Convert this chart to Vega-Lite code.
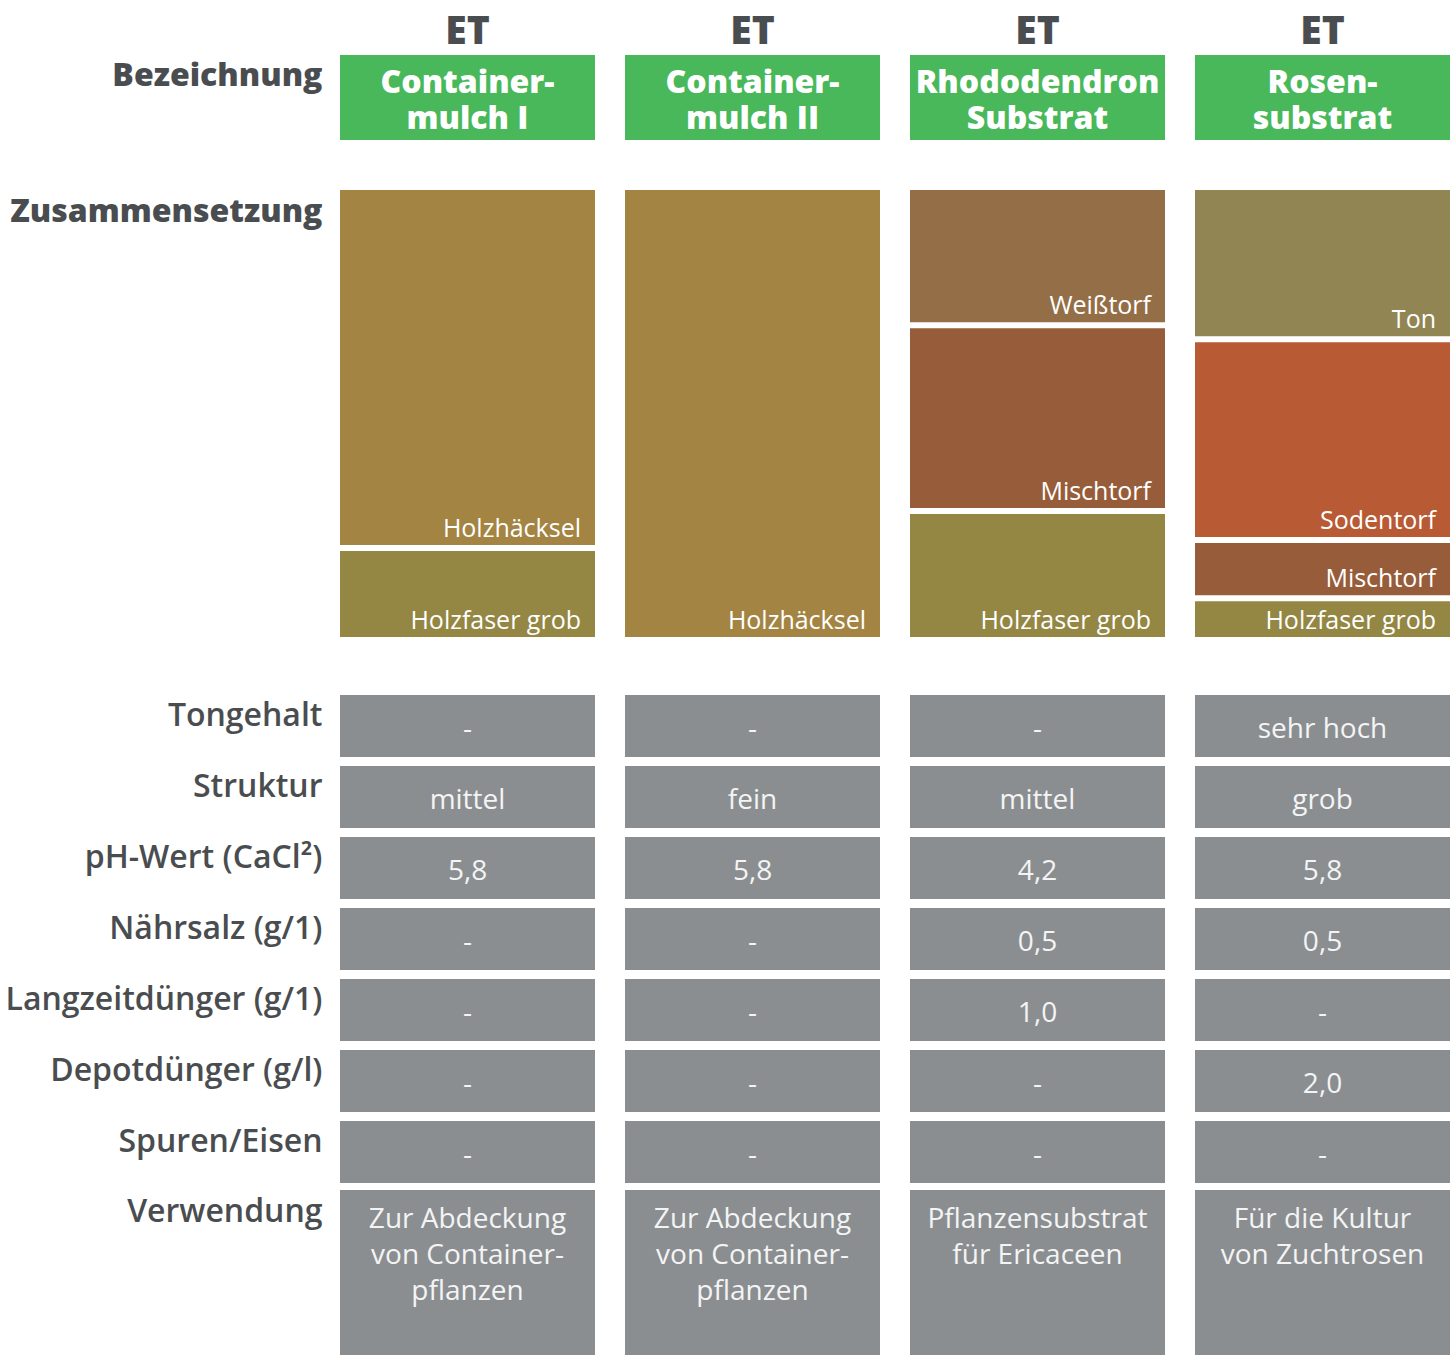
{
  "$schema": "https://vega.github.io/schema/vega-lite/v6.json",
  "background": "white",
  "padding": {"left": 4, "top": 12, "right": 0, "bottom": 0},
  "spacing": 0,
  "config": {
    "view": {"stroke": null},
    "font": "Open Sans",
    "axis": {"grid": false, "domain": false, "ticks": false, "title": null, "labelColor": "#4a4d50", "labelFont": "Open Sans", "labelLimit": 500}
  },
  "resolve": {"scale": {"x": "independent", "y": "independent", "color": "independent"}},
  "datasets": {
    "header": [
      {"product": "Containermulch I", "row": "Bezeichnung", "name": "Container-\nmulch I"},
      {"product": "Containermulch II", "row": "Bezeichnung", "name": "Container-\nmulch II"},
      {"product": "Rhododendron Substrat", "row": "Bezeichnung", "name": "Rhododendron\nSubstrat"},
      {"product": "Rosensubstrat", "row": "Bezeichnung", "name": "Rosen-\nsubstrat"}
    ],
    "comp": [
      {"product": "Containermulch I", "component": "Holzhäcksel", "pct": 79.7, "order": 1},
      {"product": "Containermulch I", "component": "Holzfaser grob", "pct": 20.3, "order": 2},
      {"product": "Containermulch II", "component": "Holzhäcksel", "pct": 100, "order": 1},
      {"product": "Rhododendron Substrat", "component": "Weißtorf", "pct": 30.5, "order": 1},
      {"product": "Rhododendron Substrat", "component": "Mischtorf", "pct": 41, "order": 2},
      {"product": "Rhododendron Substrat", "component": "Holzfaser grob", "pct": 28.5, "order": 3},
      {"product": "Rosensubstrat", "component": "Ton", "pct": 33.6, "order": 1},
      {"product": "Rosensubstrat", "component": "Sodentorf", "pct": 44.3, "order": 2},
      {"product": "Rosensubstrat", "component": "Mischtorf", "pct": 12.9, "order": 3},
      {"product": "Rosensubstrat", "component": "Holzfaser grob", "pct": 9.2, "order": 4}
    ],
    "props": [
      {"property": "Tongehalt", "product": "Containermulch I", "value": "-"},
      {"property": "Tongehalt", "product": "Containermulch II", "value": "-"},
      {"property": "Tongehalt", "product": "Rhododendron Substrat", "value": "-"},
      {"property": "Tongehalt", "product": "Rosensubstrat", "value": "sehr hoch"},
      {"property": "Struktur", "product": "Containermulch I", "value": "mittel"},
      {"property": "Struktur", "product": "Containermulch II", "value": "fein"},
      {"property": "Struktur", "product": "Rhododendron Substrat", "value": "mittel"},
      {"property": "Struktur", "product": "Rosensubstrat", "value": "grob"},
      {"property": "pH-Wert (CaCl²)", "product": "Containermulch I", "value": "5,8"},
      {"property": "pH-Wert (CaCl²)", "product": "Containermulch II", "value": "5,8"},
      {"property": "pH-Wert (CaCl²)", "product": "Rhododendron Substrat", "value": "4,2"},
      {"property": "pH-Wert (CaCl²)", "product": "Rosensubstrat", "value": "5,8"},
      {"property": "Nährsalz (g/1)", "product": "Containermulch I", "value": "-"},
      {"property": "Nährsalz (g/1)", "product": "Containermulch II", "value": "-"},
      {"property": "Nährsalz (g/1)", "product": "Rhododendron Substrat", "value": "0,5"},
      {"property": "Nährsalz (g/1)", "product": "Rosensubstrat", "value": "0,5"},
      {"property": "Langzeitdünger (g/1)", "product": "Containermulch I", "value": "-"},
      {"property": "Langzeitdünger (g/1)", "product": "Containermulch II", "value": "-"},
      {"property": "Langzeitdünger (g/1)", "product": "Rhododendron Substrat", "value": "1,0"},
      {"property": "Langzeitdünger (g/1)", "product": "Rosensubstrat", "value": "-"},
      {"property": "Depotdünger (g/l)", "product": "Containermulch I", "value": "-"},
      {"property": "Depotdünger (g/l)", "product": "Containermulch II", "value": "-"},
      {"property": "Depotdünger (g/l)", "product": "Rhododendron Substrat", "value": "-"},
      {"property": "Depotdünger (g/l)", "product": "Rosensubstrat", "value": "2,0"},
      {"property": "Spuren/Eisen", "product": "Containermulch I", "value": "-"},
      {"property": "Spuren/Eisen", "product": "Containermulch II", "value": "-"},
      {"property": "Spuren/Eisen", "product": "Rhododendron Substrat", "value": "-"},
      {"property": "Spuren/Eisen", "product": "Rosensubstrat", "value": "-"}
    ],
    "usage": [
      {"row": "Verwendung", "product": "Containermulch I", "value": "Zur Abdeckung\nvon Container-\npflanzen"},
      {"row": "Verwendung", "product": "Containermulch II", "value": "Zur Abdeckung\nvon Container-\npflanzen"},
      {"row": "Verwendung", "product": "Rhododendron Substrat", "value": "Pflanzensubstrat\nfür Ericaceen"},
      {"row": "Verwendung", "product": "Rosensubstrat", "value": "Für die Kultur\nvon Zuchtrosen"}
    ]
  },
  "vconcat": [
    {
      "width": 1110,
      "height": 132,
      "data": {"name": "header"},
      "encoding": {
        "x": {"field": "product", "type": "nominal", "sort": null,
          "scale": {"domain": ["Containermulch I", "Containermulch II", "Rhododendron Substrat", "Rosensubstrat"], "paddingInner": 0.10526, "paddingOuter": 0},
          "axis": {"orient": "top", "labelExpr": "'ET'", "labelAngle": 0, "labelFontSize": 39, "labelFontWeight": 800, "labelPadding": 12, "labelBaseline": "alphabetic"}},
        "y": {"field": "row", "type": "nominal",
          "scale": {"paddingInner": 0, "paddingOuter": 0.2765, "align": 0},
          "axis": {"labelPadding": 18, "labelFontSize": 32, "labelFontWeight": 800, "labelBaseline": "middle", "labelOffset": -21.7}}
      },
      "layer": [
        {"mark": {"type": "rect", "color": "#48b85a"}},
        {"mark": {"type": "text", "lineBreak": "\n", "lineHeight": 36, "fontSize": 32, "fontWeight": 800, "color": "white", "baseline": "middle", "dy": -14},
          "encoding": {"text": {"field": "name"}}}
      ]
    },
    {
      "width": 1110,
      "height": 453,
      "data": {"name": "comp"},
      "transform": [
        {"stack": "pct", "groupby": ["product"], "sort": [{"field": "order", "order": "ascending"}], "offset": "normalize", "as": ["y0", "y1"]}
      ],
      "layer": [
        {
          "mark": {"type": "rect", "yOffset": 3, "y2Offset": -3},
          "encoding": {
            "x": {"field": "product", "type": "nominal", "sort": null,
              "scale": {"domain": ["Containermulch I", "Containermulch II", "Rhododendron Substrat", "Rosensubstrat"], "paddingInner": 0.10526, "paddingOuter": 0},
              "axis": null},
            "y": {"field": "y0", "type": "quantitative",
              "scale": {"domain": [0, 1], "reverse": true, "nice": false, "zero": false},
              "axis": {"values": [0], "labelExpr": "'Zusammensetzung'", "labelFlush": false, "labelOverlap": false, "labelPadding": 18, "labelFontSize": 32, "labelFontWeight": 800, "labelBaseline": "middle", "labelOffset": 24}},
            "y2": {"field": "y1"},
            "color": {"field": "component", "type": "nominal", "legend": null,
              "scale": {"domain": ["Holzhäcksel", "Holzfaser grob", "Weißtorf", "Mischtorf", "Ton", "Sodentorf"],
                "range": ["#a38442", "#948643", "#946e47", "#975c39", "#918553", "#b85a33"]}}
          }
        },
        {
          "mark": {"type": "text", "align": "right", "baseline": "alphabetic", "dx": -14, "dy": -11, "fontSize": 25, "color": "white"},
          "encoding": {
            "x": {"field": "product", "type": "nominal", "sort": null, "bandPosition": 1,
              "scale": {"domain": ["Containermulch I", "Containermulch II", "Rhododendron Substrat", "Rosensubstrat"], "paddingInner": 0.10526, "paddingOuter": 0},
              "axis": null},
            "y": {"field": "y1", "type": "quantitative"},
            "text": {"field": "component"}
          }
        }
      ]
    },
    {
      "width": 1110,
      "height": 543,
      "data": {"name": "props"},
      "encoding": {
        "x": {"field": "product", "type": "nominal", "sort": null,
          "scale": {"domain": ["Containermulch I", "Containermulch II", "Rhododendron Substrat", "Rosensubstrat"], "paddingInner": 0.10526, "paddingOuter": 0},
          "axis": null},
        "y": {"field": "property", "type": "nominal",
          "sort": ["Tongehalt", "Struktur", "pH-Wert (CaCl²)", "Nährsalz (g/1)", "Langzeitdünger (g/1)", "Depotdünger (g/l)", "Spuren/Eisen"],
          "scale": {"paddingInner": 0.12676, "paddingOuter": 0.3873, "align": 1},
          "axis": {"labelPadding": 18, "labelFontSize": 32, "labelFontWeight": 600, "labelBaseline": "middle", "labelOffset": -9.5}}
      },
      "layer": [
        {"mark": {"type": "rect", "color": "#8a8e91"}},
        {"mark": {"type": "text", "fontSize": 28, "color": "#f4f4f4", "baseline": "middle", "dy": 4},
          "encoding": {"text": {"field": "value"}}}
      ]
    },
    {
      "width": 1110,
      "height": 172,
      "data": {"name": "usage"},
      "encoding": {
        "x": {"field": "product", "type": "nominal", "sort": null,
          "scale": {"domain": ["Containermulch I", "Containermulch II", "Rhododendron Substrat", "Rosensubstrat"], "paddingInner": 0.10526, "paddingOuter": 0},
          "axis": null},
        "y": {"field": "row", "type": "nominal",
          "scale": {"paddingInner": 0, "paddingOuter": 0.02121, "align": 1},
          "axis": {"labelPadding": 18, "labelFontSize": 32, "labelFontWeight": 600, "labelBaseline": "middle", "labelOffset": -60.7}}
      },
      "layer": [
        {"mark": {"type": "rect", "color": "#8a8e91"}},
        {"mark": {"type": "text", "fontSize": 28, "color": "#f4f4f4", "baseline": "top", "dy": 16, "lineBreak": "\n", "lineHeight": 36},
          "encoding": {
            "y": {"field": "row", "type": "nominal", "bandPosition": 0},
            "text": {"field": "value"}
          }}
      ]
    }
  ]
}
